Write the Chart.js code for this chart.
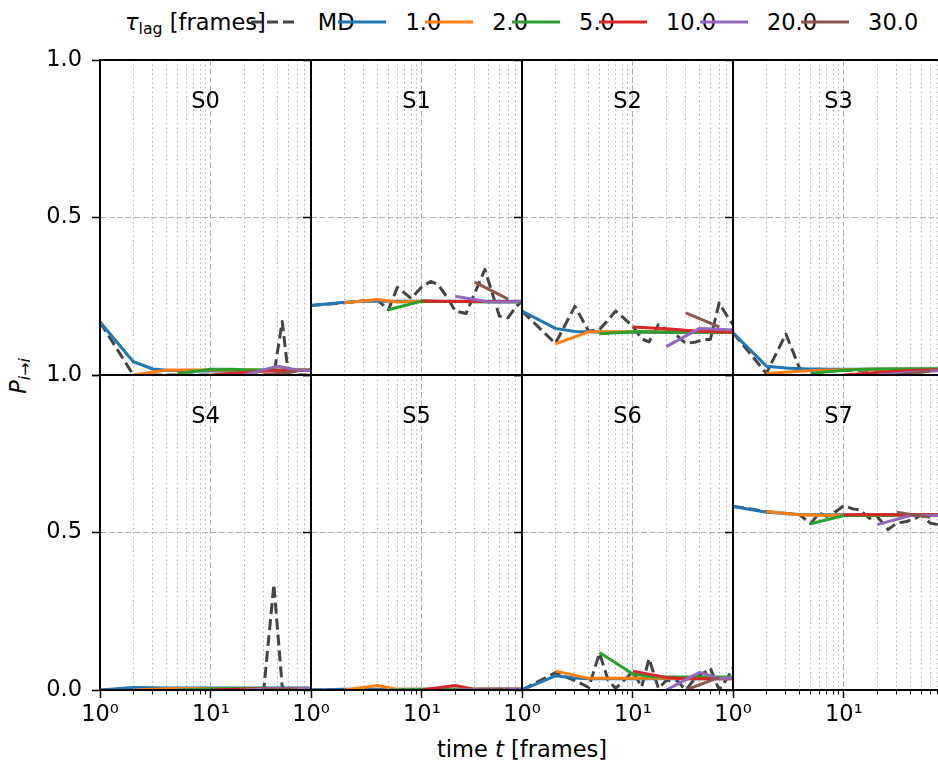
<!DOCTYPE html>
<html>
<head>
<meta charset="utf-8">
<script src="https://cdn.jsdelivr.net/npm/chart.js@4.4.1/dist/chart.umd.min.js"></script>
<style>
    html, body { margin: 0; padding: 0; background: #fff; }
    body {
        width: 938px; height: 767px; overflow: hidden; position: relative;
        font-family: 'DejaVu Sans', sans-serif; color: #000;
    }
    canvas { position: absolute; }
    #legend {
        position: absolute; left: 125px; top: 6px; height: 32px;
        display: flex; align-items: center; white-space: nowrap; font-size: 22.5px;
    }
    #legend sub, #yTitle sub { font-size: 0.7em; vertical-align: -0.25em; line-height: 0; }
    #legend svg { display: block; }
    #xTitle {
        position: absolute; left: 522px; top: 734px; transform: translateX(-50%);
        font-size: 22.5px; line-height: 30px; white-space: nowrap;
    }
    #yTitle {
        position: absolute; left: 18px; top: 376px; font-size: 22.5px; line-height: 30px;
        white-space: nowrap; transform: translate(-50%, -50%) rotate(-90deg);
    }
</style>
</head>
<body>
<div id="legend"><span><i>τ</i><sub>lag</sub> [frames]</span></div>
<div id="xTitle">time <i>t</i> [frames]</div>
<div id="yTitle"><i>P</i><sub><i>i</i>→<i>i</i></sub></div>
<script>
// panels and series
const panelNames = ['S0', 'S1', 'S2', 'S3', 'S4', 'S5', 'S6', 'S7'];
const seriesNames = ['MD', '1.0', '2.0', '5.0', '10.0', '20.0', '30.0'];
const seriesColors = ['#444444', '#1f77b4', '#ff7f0e', '#2ca02c', '#d62728', '#9467bd', '#8c564b'];

// axis ticks
const xMin = 1;
const xMax = 80;
const xMajorTicks = [1, 10];
const xMajorLabels = ['10\u2070', '10\u00b9'];
const xMinorTicks = [2, 3, 4, 5, 6, 7, 8, 9, 20, 30, 40, 50, 60, 70, 80];
const yTickValues = [0, 0.5, 1];
const yTickLabels = ['0.0', '0.5', '1.0'];

// sampling times [frames]
const mdTimes = [1, 2, 3, 4, 5, 6, 7, 8, 10, 12, 14, 17, 20, 25, 30, 37, 44, 50, 60, 70, 80];
const lag1Times = [1, 2, 3, 4, 5, 6, 8, 10, 15, 20, 30, 40, 60, 80];
const lag2Times = [2, 4, 6, 8, 10, 20, 40, 80];
const lag5Times = [5, 10, 15, 20, 40, 80];
const lag10Times = [10, 20, 30, 40, 60, 80];
const lag20Times = [20, 40, 60, 80];
const lag30Times = [30, 60];

// P_i->i per panel (rows S0..S7)
const mdP = [
    [0.168, 0, 0, 0, 0, 0, 0, 0, 0, 0, 0, 0, 0, 0, 0, 0, 0.17, 0, 0, 0, 0],
    [0.221, 0.229, 0.236, 0.237, 0.207, 0.278, 0.26, 0.243, 0.28, 0.297, 0.287, 0.245, 0.203, 0.195, 0.26, 0.335, 0.25, 0.187, 0.182, 0.215, 0.235],
    [0.203, 0.1, 0.218, 0.139, 0.144, 0.175, 0.203, 0.185, 0.155, 0.115, 0.105, 0.16, 0.145, 0.125, 0.1, 0.105, 0.113, 0.113, 0.229, 0.19, 0.16],
    [0.134, 0.005, 0.13, 0.02, 0.015, 0.015, 0.015, 0.015, 0.015, 0.015, 0.015, 0.015, 0.015, 0.015, 0.015, 0.015, 0.015, 0.015, 0.015, 0.015, 0.015],
    [0, 0, 0, 0, 0, 0, 0, 0, 0, 0, 0, 0, 0, 0, 0, 0.335, 0.01, 0, 0, 0, 0],
    [0, 0, 0, 0, 0, 0, 0, 0, 0, 0, 0, 0, 0, 0, 0, 0, 0, 0, 0, 0, 0],
    [0, 0.055, 0.03, 0.008, 0.117, 0.03, 0.005, 0.025, 0.058, 0.01, 0.1, 0.005, 0.03, 0.03, 0, 0.04, 0.055, 0.069, 0, 0.035, 0.069],
    [0.583, 0.567, 0.56, 0.556, 0.528, 0.562, 0.551, 0.56, 0.585, 0.575, 0.572, 0.545, 0.551, 0.509, 0.53, 0.535, 0.545, 0.556, 0.53, 0.525, 0.52]
];
const lag1P = [
    [0.168, 0.042, 0.019, 0.015, 0.014, 0.014, 0.013, 0.013, 0.013, 0.013, 0.014, 0.014, 0.015, 0.015],
    [0.221, 0.231, 0.234, 0.234, 0.234, 0.234, 0.234, 0.234, 0.234, 0.234, 0.234, 0.234, 0.234, 0.234],
    [0.203, 0.148, 0.138, 0.137, 0.136, 0.136, 0.136, 0.136, 0.136, 0.136, 0.136, 0.136, 0.136, 0.136],
    [0.134, 0.028, 0.022, 0.02, 0.019, 0.019, 0.018, 0.018, 0.018, 0.018, 0.018, 0.018, 0.018, 0.018],
    [0, 0.008, 0.007, 0.006, 0.006, 0.006, 0.006, 0.006, 0.006, 0.006, 0.006, 0.006, 0.006, 0.006],
    [0, 0.002, 0.002, 0.002, 0.002, 0.002, 0.002, 0.002, 0.002, 0.002, 0.002, 0.002, 0.002, 0.002],
    [0, 0.045, 0.038, 0.036, 0.036, 0.036, 0.036, 0.036, 0.036, 0.036, 0.036, 0.036, 0.036, 0.036],
    [0.583, 0.564, 0.56, 0.557, 0.556, 0.556, 0.556, 0.556, 0.556, 0.556, 0.556, 0.556, 0.556, 0.556]
];
const lag2P = [
    [0, 0.016, 0.016, 0.016, 0.016, 0.016, 0.016, 0.016],
    [0.229, 0.24, 0.232, 0.233, 0.233, 0.233, 0.233, 0.233],
    [0.099, 0.137, 0.137, 0.137, 0.137, 0.137, 0.137, 0.137],
    [0.005, 0.012, 0.015, 0.016, 0.017, 0.018, 0.018, 0.018],
    [0, 0.004, 0.005, 0.005, 0.005, 0.005, 0.005, 0.005],
    [0, 0.014, 0.002, 0.002, 0.002, 0.002, 0.002, 0.002],
    [0.06, 0.037, 0.037, 0.037, 0.037, 0.037, 0.037, 0.037],
    [0.567, 0.556, 0.555, 0.555, 0.555, 0.555, 0.555, 0.555]
];
const lag5P = [
    [0.005, 0.018, 0.018, 0.017, 0.016, 0.016],
    [0.207, 0.235, 0.233, 0.233, 0.232, 0.232],
    [0.131, 0.137, 0.137, 0.136, 0.136, 0.136],
    [0.005, 0.015, 0.018, 0.019, 0.02, 0.02],
    [0, 0.004, 0.005, 0.005, 0.005, 0.005],
    [0, 0.002, 0.002, 0.002, 0.002, 0.002],
    [0.119, 0.051, 0.042, 0.041, 0.041, 0.041],
    [0.528, 0.554, 0.555, 0.555, 0.555, 0.555]
];
const lag10P = [
    [0, 0.008, 0.012, 0.014, 0.015, 0.015],
    [0.235, 0.233, 0.233, 0.233, 0.233, 0.233],
    [0.152, 0.147, 0.142, 0.139, 0.137, 0.136],
    [0, 0.008, 0.012, 0.014, 0.016, 0.017],
    [0, 0.003, 0.004, 0.004, 0.004, 0.004],
    [0, 0.014, 0.002, 0.002, 0.002, 0.002],
    [0.06, 0.04, 0.036, 0.036, 0.036, 0.036],
    [0.556, 0.556, 0.556, 0.556, 0.556, 0.556]
];
const lag20P = [
    [0, 0.028, 0.016, 0.015],
    [0.25, 0.232, 0.232, 0.234],
    [0.09, 0.148, 0.145, 0.143],
    [0, 0.008, 0.012, 0.014],
    [0, 0.004, 0.004, 0.004],
    [0, 0.002, 0.002, 0.002],
    [0, 0.056, 0.037, 0.037],
    [0.525, 0.554, 0.554, 0.554]
];
const lag30P = [
    [0, 0.012],
    [0.295, 0.241],
    [0.197, 0.153],
    [0, 0.012],
    [0, 0.003],
    [0, 0.002],
    [0, 0.04],
    [0.564, 0.548]
];

const seriesTimes = [mdTimes, lag1Times, lag2Times, lag5Times, lag10Times, lag20Times, lag30Times];
const seriesValues = [mdP, lag1P, lag2P, lag5P, lag10P, lag20P, lag30P];

// panel grid geometry (px)
const colLeft = [100, 311, 522, 733];
const rowTop = [60, 375];
const panelW = 211;
const panelH = 315;
const padL = 100, padR = 20, padT = 30, padB = 80;

const gridMajor = '#b0b0b0';
const gridMinor = '#b4b4b4';
const tickFont = { family: "'DejaVu Sans', sans-serif", size: 22.5 };
const mdDash = [11, 5];

// legend: title, then one handle + label per series
const legend = document.getElementById('legend');
seriesNames.forEach((name, s) => {
    const svgNS = 'http://www.w3.org/2000/svg';
    const svg = document.createElementNS(svgNS, 'svg');
    svg.setAttribute('width', 48);
    svg.setAttribute('height', 12);
    svg.style.marginLeft = s === 0 ? '-15px' : '-16px';
    const line = document.createElementNS(svgNS, 'line');
    line.setAttribute('x1', 0); line.setAttribute('y1', 6);
    line.setAttribute('x2', 48); line.setAttribute('y2', 6);
    line.setAttribute('stroke', seriesColors[s]);
    line.setAttribute('stroke-width', 3);
    if (s === 0) line.setAttribute('stroke-dasharray', mdDash.join(' '));
    svg.appendChild(line);
    legend.appendChild(svg);
    const label = document.createElement('span');
    label.textContent = name;
    label.style.marginLeft = '19px';
    legend.appendChild(label);
});

// frame around each panel plus the state name
const panelFrame = {
    id: 'panelFrame',
    afterDatasetsDraw(chart, args, opts) {
        const { ctx, chartArea: a } = chart;
        ctx.save();
        ctx.strokeStyle = '#000';
        ctx.lineWidth = 2;
        ctx.strokeRect(a.left, a.top, a.right - a.left, a.bottom - a.top);
        ctx.fillStyle = '#000';
        ctx.font = "22.5px 'DejaVu Sans', sans-serif";
        ctx.textAlign = 'center';
        ctx.textBaseline = 'middle';
        ctx.fillText(opts.label, (a.left + a.right) / 2, a.top + 42);
        ctx.restore();
    }
};

function buildDatasets(panel) {
    return seriesNames.map((name, s) => ({
        label: name,
        data: seriesTimes[s].map((t, k) => ({ x: t, y: seriesValues[s][panel][k] })),
        borderColor: seriesColors[s],
        backgroundColor: seriesColors[s],
        borderWidth: 3,
        borderDash: s === 0 ? mdDash : [],
        borderJoinStyle: 'round',
        pointRadius: 0,
        tension: 0,
        fill: false,
        order: seriesNames.length - s   // MD at the bottom, longest lag on top
    }));
}

panelNames.forEach((name, i) => {
    const row = Math.floor(i / 4);
    const col = i % 4;
    const isBottom = row === 1;

    const canvas = document.createElement('canvas');
    canvas.width = padL + panelW + padR;
    canvas.height = padT + panelH + padB;
    canvas.style.width = canvas.width + 'px';
    canvas.style.height = canvas.height + 'px';
    canvas.style.left = (colLeft[col] - padL) + 'px';
    canvas.style.top = (rowTop[row] - padT) + 'px';
    document.body.appendChild(canvas);

    new Chart(canvas.getContext('2d'), {
        type: 'line',
        data: { datasets: buildDatasets(i) },
        options: {
            responsive: false,
            devicePixelRatio: 1,
            animation: false,
            events: [],
            layout: { autoPadding: false, padding: { left: 0, top: padT, right: padR, bottom: 0 } },
            plugins: {
                legend: { display: false },
                tooltip: { enabled: false },
                panelFrame: { label: name }
            },
            scales: {
                xMinor: {
                    type: 'logarithmic', position: 'bottom', weight: 0,
                    min: xMin, max: xMax,
                    afterBuildTicks: scale => { scale.ticks = xMinorTicks.map(v => ({ value: v })); },
                    afterFit: scale => { scale.height = 0; },
                    ticks: { display: false, autoSkip: false },
                    grid: {
                        color: gridMinor, lineWidth: 1,
                        drawTicks: isBottom, tickLength: 4.5, tickColor: '#000', tickWidth: 1
                    },
                    border: { display: false, dash: [1.5, 3] }
                },
                x: {
                    type: 'logarithmic', position: 'bottom', weight: 1,
                    min: xMin, max: xMax,
                    afterBuildTicks: scale => { scale.ticks = xMajorTicks.map(v => ({ value: v })); },
                    afterFit: scale => { scale.height = padB; },
                    ticks: {
                        display: isBottom, autoSkip: false, maxRotation: 0, minRotation: 0,
                        padding: 4, color: '#000', font: tickFont,
                        callback: v => xMajorLabels[xMajorTicks.indexOf(v)] || ''
                    },
                    grid: {
                        color: gridMajor, lineWidth: 1,
                        drawTicks: isBottom, tickLength: 8, tickColor: '#000', tickWidth: 1.5
                    },
                    border: { display: false, dash: [6, 2.5] }
                },
                y: {
                    type: 'linear', position: 'left',
                    min: 0, max: 1,
                    afterBuildTicks: scale => { scale.ticks = yTickValues.map(v => ({ value: v })); },
                    afterFit: scale => { scale.width = padL; },
                    ticks: {
                        display: col === 0, padding: 10, color: '#000', font: tickFont,
                        // the upper row leaves 0.0 to the lower row's 1.0
                        callback: v => (row === 0 && v === 0) ? '' : yTickLabels[yTickValues.indexOf(v)]
                    },
                    grid: {
                        color: c => (c.tick && c.tick.value === 0.5) ? gridMajor : 'rgba(0,0,0,0)',
                        lineWidth: 1,
                        tickLength: 8, tickColor: '#000', tickWidth: 1.5
                    },
                    border: { display: false, dash: [6, 2.5] }
                }
            }
        },
        plugins: [panelFrame]
    });
});
</script>
</body>
</html>
